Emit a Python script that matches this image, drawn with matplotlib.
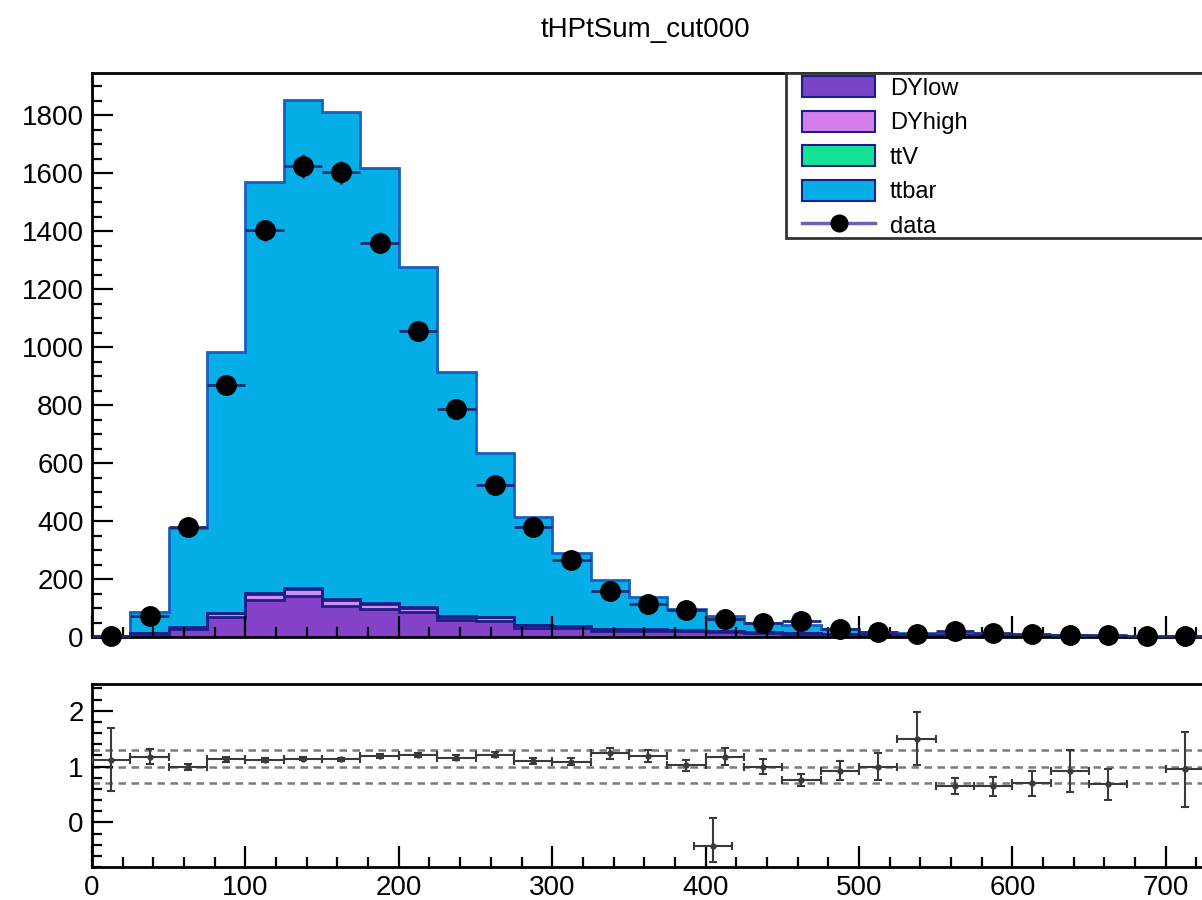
import numpy as np
import matplotlib.pyplot as plt
from matplotlib.patches import Patch, Rectangle
from matplotlib.lines import Line2D
from matplotlib.ticker import MultipleLocator

plt.rcParams['font.family'] = ['Liberation Sans', 'DejaVu Sans']

# binning: 25 GeV bins from 0 to 725
bin_edges = np.arange(0, 750, 25)
bin_half = 12.5

# observed events per bin
data_counts = [4, 73, 379, 870, 1403, 1625, 1603, 1361, 1057, 786, 523, 379, 267, 157, 115,
               94, 62, 50, 55, 28, 18, 10, 20, 14, 10, 6, 6, 5, 2]

# MC components (stack order: DYlow, DYhigh, ttV, ttbar)
dy_low = [1, 10, 26, 68, 128, 142, 108, 97, 85, 58, 56, 32, 30, 22, 21, 19, 16, 14, 12, 10,
          8, 6, 5, 4, 3, 2, 2, 0, 1]
dy_high = [0, 3, 6, 14, 22, 22, 20, 18, 16, 12, 12, 8, 7, 5, 4, 4, 3, 3, 2, 2, 1, 1, 1, 1, 1,
           0, 0, 0, 0]
ttv = [0, 0, 1, 2, 3, 4, 4, 3, 3, 2, 2, 2, 1, 1, 1, 1, 1, 1, 1, 0, 0, 0, 0, 0, 0, 0, 0, 0, 0]
ttbar = [3.5, 73, 344, 898, 1418, 1685, 1681, 1499, 1173, 841, 566, 373, 252, 167, 111, 72,
         53, 32, 27, 14, 9, 8, 7, 4, 3, 3.5, 2.1, 0, 0.9]

# one stray point in the ratio pad
odd_x = [405]
odd_ratio = [-0.42]
odd_err_lo = [0.29]
odd_err_hi = [0.50]

ref_levels = [0.7, 1.0, 1.3]

samples = ['DYlow', 'DYhigh', 'ttV', 'ttbar']
fill_colors = ['#8442c8', '#cf8ef0', '#1de39a', '#06aee8']
line_colors = ['#1b1f8a', '#1b1f8a', '#1b1f8a', '#1560c0']
legend_fill = ['#7a44c8', '#d47fe9', '#14e396', '#06aee8']

centers = bin_edges[:-1] + bin_half
data = np.array(data_counts, dtype=float)
comps = [np.array(c, dtype=float) for c in (dy_low, dy_high, ttv, ttbar)]
cum = np.cumsum(comps, axis=0)
mc_total = cum[-1]

ratio = np.where(mc_total > 0, mc_total / data, np.nan)
ratio_err = ratio / np.sqrt(data)

W, H = 1202, 900
fig = plt.figure(figsize=(W / 100, H / 100), dpi=100)
x_max = (W - 92) / 1.534

ax1 = fig.add_axes([92 / W, 1 - 637 / H, 1 - 92 / W, (637 - 73) / H])
ax2 = fig.add_axes([92 / W, 1 - 867 / H, 1 - 92 / W, (867 - 684) / H])

# stacked histogram, drawn from the full sum down (like THStack)
for i in range(len(comps) - 1, -1, -1):
    ax1.stairs(cum[i], bin_edges, baseline=0, fill=True, color=fill_colors[i], zorder=1)
    ax1.stairs(cum[i], bin_edges, baseline=0, fill=False, color=line_colors[i], lw=2, zorder=1.2)

ax1.errorbar(centers, data, xerr=bin_half, yerr=np.sqrt(data), fmt='o', color='black',
             ecolor='#1d2a78', elinewidth=2, ms=14, capsize=0, clip_on=False, zorder=5)

ax1.set_xlim(0, x_max)
ax1.set_ylim(0, 1946)
ax1.yaxis.set_major_locator(MultipleLocator(200))
ax1.yaxis.set_minor_locator(MultipleLocator(50))
ax1.xaxis.set_major_locator(MultipleLocator(100))
ax1.xaxis.set_minor_locator(MultipleLocator(20))
ax1.tick_params(labelbottom=False)

# ratio pad
for lvl in ref_levels:
    ax2.axhline(lvl, color='#7a7a7a', ls=(0, (3, 2.2)), lw=1.8, zorder=1)
ax2.errorbar(centers, ratio, xerr=bin_half, yerr=ratio_err, fmt='o', ms=3.5, color='#3a3a3a',
             elinewidth=1.5, capsize=2.8, capthick=1.5, zorder=3)
ax2.errorbar(odd_x, odd_ratio, xerr=bin_half, yerr=[odd_err_lo, odd_err_hi], fmt='o', ms=3.5,
             color='#3a3a3a', elinewidth=1.5, capsize=2.8, capthick=1.5, zorder=3)
ax2.set_xlim(0, x_max)
ax2.set_ylim(-0.8, 2.48)
ax2.yaxis.set_major_locator(MultipleLocator(1))
ax2.yaxis.set_minor_locator(MultipleLocator(0.2))
ax2.xaxis.set_major_locator(MultipleLocator(100))
ax2.xaxis.set_minor_locator(MultipleLocator(20))

for ax in (ax1, ax2):
    ax.spines['right'].set_visible(False)
    for s in ('left', 'bottom', 'top'):
        ax.spines[s].set_linewidth(2)
    ax.tick_params(which='both', direction='in', top=False, right=False, width=1.6,
                   labelsize=20, pad=6)
    ax.tick_params(which='major', length=15)
    ax.tick_params(which='minor', length=7)

fig.text(645 / W, 1 - 30 / H, 'tHPtSum_cut000', ha='center', va='center', fontsize=20)

# legend: frame drawn separately, entries placed without frame
ax1.add_patch(Rectangle((786 / W, 1 - 238 / H), 0.5, (238 - 73) / H,
                        transform=fig.transFigure, facecolor='white', clip_on=False,
                        edgecolor='#333333', lw=2, zorder=5.5))
handles = [Patch(facecolor=legend_fill[i], edgecolor=line_colors[0], lw=1.5) for i in range(4)]
handles.append(Line2D([], [], color='#6a62b8', lw=2.5, marker='o', mfc='black', mec='black', ms=12))
leg = ax1.legend(handles, samples + ['data'], loc='upper left',
                 bbox_to_anchor=(802 / W, 1 - 76 / H), bbox_transform=fig.transFigure,
                 borderaxespad=0, borderpad=0, fontsize=17, handlelength=3.1,
                 handleheight=1.0, labelspacing=0.46, handletextpad=0.62, frameon=False)
leg.set_zorder(6)

fig.savefig('out.png', dpi=100)
